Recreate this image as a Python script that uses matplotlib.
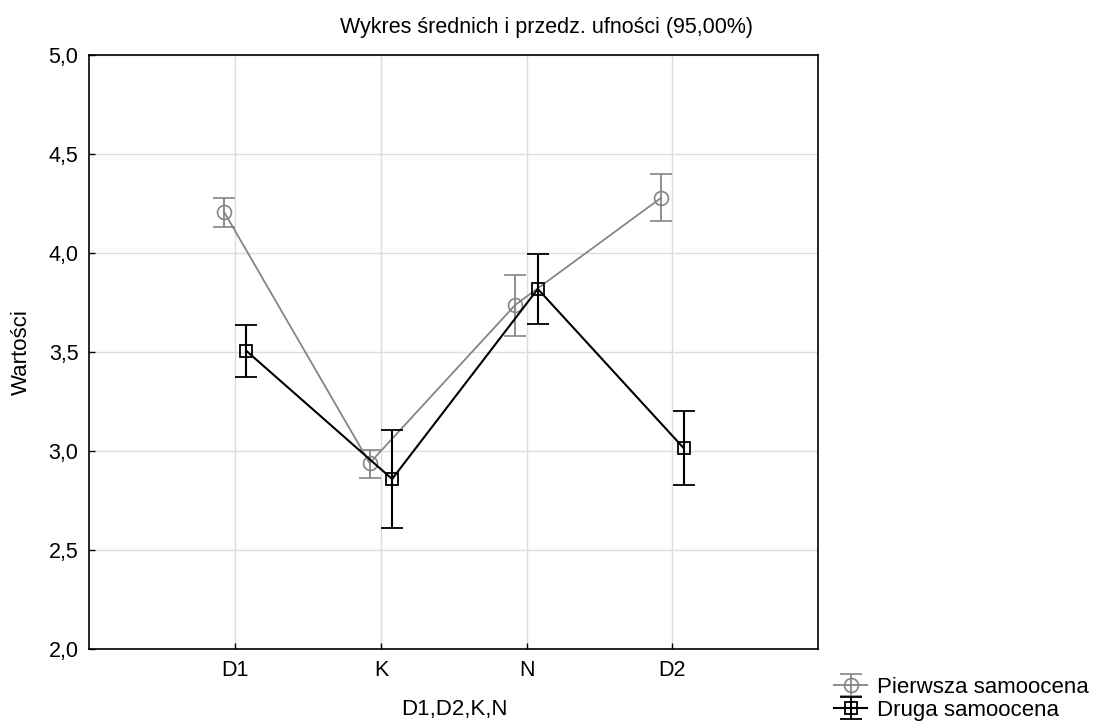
import numpy as np
import matplotlib.pyplot as plt
from matplotlib.ticker import FuncFormatter

plt.rcParams['font.family'] = ['Liberation Sans', 'DejaVu Sans']

categories = ["D1", "K", "N", "D2"]

# Pierwsza samoocena: mean, lower CI, upper CI
p1_mean = [4.21, 2.94, 3.74, 4.28]
p1_low = [4.135, 2.867, 3.582, 4.163]
p1_high = [4.28, 3.009, 3.892, 4.40]

# Druga samoocena
p2_mean = [3.507, 2.86, 3.82, 3.017]
p2_low = [3.375, 2.613, 3.643, 2.832]
p2_high = [3.638, 3.106, 3.995, 3.204]

x = np.arange(len(categories))
off = 0.077

fig = plt.figure(figsize=(10.98, 7.22), dpi=100)
ax = fig.add_axes([0.0815, 0.1007, 0.6635, 0.8227])

m1 = np.array(p1_mean)
m2 = np.array(p2_mean)
e1 = [m1 - np.array(p1_low), np.array(p1_high) - m1]
e2 = [m2 - np.array(p2_low), np.array(p2_high) - m2]

gray = '#858585'
ax.errorbar(x - off, m1, yerr=e1, color=gray, marker='o', ms=10, mfc='none',
            mec=gray, mew=1.2, lw=1.3, elinewidth=1.3, capsize=8, capthick=1.3,
            label='Pierwsza samoocena', zorder=3)
ax.errorbar(x + off, m2, yerr=e2, color='black', marker='s', ms=9, mfc='none',
            mec='black', mew=1.3, lw=1.5, elinewidth=1.5, capsize=8, capthick=1.5,
            label='Druga samoocena', zorder=4)

ax.set_xlim(-1, 4)
ax.set_ylim(2.0, 5.0)
ax.set_xticks(x)
ax.set_xticklabels(categories)
ax.set_yticks(np.arange(2.0, 5.01, 0.5))
ax.yaxis.set_major_formatter(FuncFormatter(lambda v, p: f"{v:.1f}".replace('.', ',')))
ax.tick_params(direction='in', length=4, labelsize=15.5, width=1, pad=8)
ax.grid(True, color='#dddddd', lw=1)
ax.set_axisbelow(True)
for s in ax.spines.values():
    s.set_linewidth(1.2)

fig.text(454 / 1098, 1 - 709 / 722, "D1,D2,K,N", ha='center', va='center', fontsize=16)
fig.text(21 / 1098, 1 - 352 / 722, "Wartości", ha='center', va='center',
         rotation=90, fontsize=16)
fig.text(546 / 1098, 1 - 27 / 722, "Wykres średnich i przedz. ufności (95,00%)",
         ha='center', va='center', fontsize=15.5)

ax.legend(loc='lower left', bbox_to_anchor=(823 / 1098, -0.014), bbox_transform=fig.transFigure,
          frameon=False, fontsize=16, handlelength=1.5, handletextpad=0.45,
          labelspacing=0.1, borderpad=0)

plt.savefig("out.png", dpi=100)
